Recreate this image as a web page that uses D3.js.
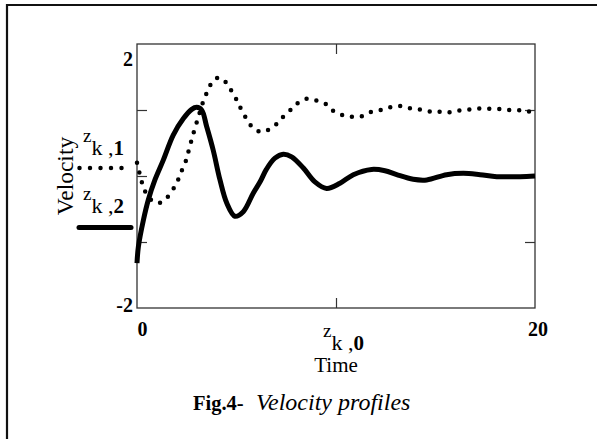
<!DOCTYPE html>
<html>
<head>
<meta charset="utf-8">
<script src="https://cdn.jsdelivr.net/npm/d3@7"></script>
<style>
  html, body { margin: 0; padding: 0; background: #fff; }
  svg { display: block; }
</style>
</head>
<body>
<svg id="chart" width="597" height="439"></svg>
<script>
// ---- data ----
const xDomain = [0, 20];
const yDomain = [-2, 2];
const xTickValues = [10];
const yTickValues = [-1, 0, 1];
const xTickLabels = ["0", "20"];
const xTickLabelValues = [0, 20];
const yTickLabels = ["2", "-2"];
const yTickLabelValues = [2, -2];

// z_{k,1} (dotted)
const t1 = [0, 0.12, 0.24, 0.4, 0.7, 1.1, 1.5, 2.0, 2.2, 2.4, 2.55, 2.8, 3.1, 3.4, 3.6, 3.8, 4.15, 4.55, 4.8, 5.05, 5.25, 5.5, 5.8, 6.2, 6.6, 7.05, 7.35, 7.75, 8.1, 8.55, 9.05, 9.5, 9.85, 10.35, 10.75, 11.25, 11.75, 12.25, 12.7, 13.2, 13.65, 14.15, 14.65, 15.05, 15.55, 16.05, 16.55, 17.05, 17.55, 18.1, 18.6, 19.1, 19.6, 20];
const v1 = [0.20, 0.05, -0.09, -0.23, -0.36, -0.41, -0.33, -0.10, 0.05, 0.18, 0.33, 0.61, 0.91, 1.19, 1.31, 1.44, 1.49, 1.39, 1.26, 1.13, 1.0, 0.87, 0.74, 0.67, 0.70, 0.80, 0.90, 1.01, 1.11, 1.17, 1.14, 1.09, 0.99, 0.92, 0.90, 0.90, 0.97, 1.0, 1.04, 1.06, 1.03, 1.01, 0.98, 0.98, 0.96, 0.99, 1.0, 1.02, 1.02, 1.02, 1.0, 1.0, 0.98, 0.98];

// z_{k,2} (solid)
const t2 = [0, 0.07, 0.32, 0.57, 0.9, 1.32, 1.82, 2.33, 2.75, 3.0, 3.25, 3.5, 3.83, 4.17, 4.51, 4.92, 5.34, 5.84, 6.2, 6.5, 6.93, 7.35, 7.77, 8.36, 8.94, 9.53, 10.2, 10.87, 11.79, 12.46, 13.05, 13.88, 14.56, 15.56, 16.4, 17.24, 18.08, 19.25, 20];
const v2 = [-1.32, -1.07, -0.67, -0.36, -0.06, 0.24, 0.62, 0.87, 1.01, 1.04, 1.0, 0.75, 0.39, -0.06, -0.41, -0.61, -0.54, -0.26, -0.08, 0.10, 0.27, 0.33, 0.29, 0.12, -0.09, -0.19, -0.11, 0.02, 0.10, 0.08, 0.02, -0.05, -0.06, 0.02, 0.04, 0.02, -0.01, -0.01, 0.0];

const seriesNames = ["1", "2"];
const xVarIndex = "0";
const yAxisTitle = "Velocity";
const xAxisTitle = "Time";
const captionBold = "Fig.4-";
const captionItalic = "Velocity profiles";

// ---- layout ----
const FONT = "'Liberation Serif', 'Times New Roman', Times, 'DejaVu Serif', serif";
const svg = d3.select("#chart").attr("font-family", FONT);
const plot = { left: 137, right: 535, top: 44, bottom: 308 };
const x = d3.scaleLinear().domain(xDomain).range([plot.left, plot.right]);
const y = d3.scaleLinear().domain(yDomain).range([plot.bottom, plot.top]);

// outer frame (top and left edges visible)
svg.append("path")
  .attr("d", "M7,439 L7,5 L597,5")
  .attr("fill", "none").attr("stroke", "#111").attr("stroke-width", 2.2);

// inner ticks via axes
const tickLen = 10;
const axisStyle = g => { g.attr("font-family", null); g.select(".domain").remove(); g.selectAll("line").attr("stroke", "#333").attr("stroke-width", 1.2); g.selectAll("text").remove(); };
svg.append("g").attr("transform", `translate(${plot.left},0)`)
  .call(d3.axisRight(y).tickValues(yTickValues).tickSize(tickLen).tickFormat("")).call(axisStyle);
svg.append("g").attr("transform", `translate(${plot.right},0)`)
  .call(d3.axisLeft(y).tickValues(yTickValues).tickSize(tickLen).tickFormat("")).call(axisStyle);
svg.append("g").attr("transform", `translate(0,${plot.bottom})`)
  .call(d3.axisTop(x).tickValues(xTickValues).tickSize(tickLen).tickFormat("")).call(axisStyle);
svg.append("g").attr("transform", `translate(0,${plot.top})`)
  .call(d3.axisBottom(x).tickValues(xTickValues).tickSize(tickLen).tickFormat("")).call(axisStyle);

// plot frame
svg.append("rect")
  .attr("x", plot.left).attr("y", plot.top)
  .attr("width", plot.right - plot.left).attr("height", plot.bottom - plot.top)
  .attr("fill", "none").attr("stroke", "#333").attr("stroke-width", 1.3);

// lines
const line = d3.line().x(d => x(d[0])).y(d => y(d[1])).curve(d3.curveCatmullRom.alpha(0.5));
const d1 = t1.map((t, i) => [t, v1[i]]);
const d2 = t2.map((t, i) => [t, v2[i]]);

svg.append("path").attr("d", line(d1))
  .attr("fill", "none").attr("stroke", "#000").attr("stroke-width", 4.5)
  .attr("stroke-linecap", "round").attr("stroke-dasharray", "0 10");
svg.append("path").attr("d", line(d2))
  .attr("fill", "none").attr("stroke", "#000").attr("stroke-width", 5)
  .attr("stroke-linejoin", "round");

function txt(xp, yp) {
  return svg.append("text").attr("x", xp).attr("y", yp).attr("font-family", FONT).attr("fill", "#000");
}

// tick labels
const yLabelDy = [22, 4];
yTickLabels.forEach((lab, i) => {
  txt(plot.left - 4, y(yTickLabelValues[i]) + yLabelDy[i])
    .attr("text-anchor", "end").attr("font-weight", "bold").attr("font-size", 20).text(lab);
});
const xLabelDx = [5.5, 3];
xTickLabels.forEach((lab, i) => {
  txt(x(xTickLabelValues[i]) + xLabelDx[i], plot.bottom + 28)
    .attr("text-anchor", "middle").attr("font-weight", "bold").attr("font-size", 20).text(lab);
});

// variable label helper: z_{k,n}
function zLabel(xPos, baseline, idx) {
  const t = txt(xPos, baseline).attr("font-size", 19);
  t.append("tspan").text("z");
  t.append("tspan").attr("dy", 13).attr("font-size", 22).text("k");
  t.append("tspan").attr("font-size", 22).text(" ,");
  t.append("tspan").attr("font-size", 21).attr("font-weight", "bold").text(idx);
}

// x variable and title
zLabel(323, 337, xVarIndex);
txt(336, 372).attr("text-anchor", "middle").attr("font-size", 21).text(xAxisTitle);

// y title
svg.append("text").attr("transform", "translate(72.5,176) rotate(-90)").attr("font-family", FONT)
  .attr("text-anchor", "middle").attr("font-size", 23.5).text(yAxisTitle);

// legend
zLabel(83, 142, seriesNames[0]);
svg.append("line").attr("x1", 79.5).attr("x2", 122).attr("y1", 168).attr("y2", 168)
  .attr("stroke", "#000").attr("stroke-width", 4.5).attr("stroke-linecap", "round").attr("stroke-dasharray", "0 10.5");
zLabel(83, 200, seriesNames[1]);
svg.append("line").attr("x1", 79).attr("x2", 131).attr("y1", 227.5).attr("y2", 227.5)
  .attr("stroke", "#000").attr("stroke-width", 5).attr("stroke-linecap", "round");

// caption
txt(193, 410).attr("font-size", 20.5).attr("font-weight", "bold").text(captionBold);
txt(256, 410).attr("font-size", 24).attr("font-style", "italic").text(captionItalic);
</script>
</body>
</html>
